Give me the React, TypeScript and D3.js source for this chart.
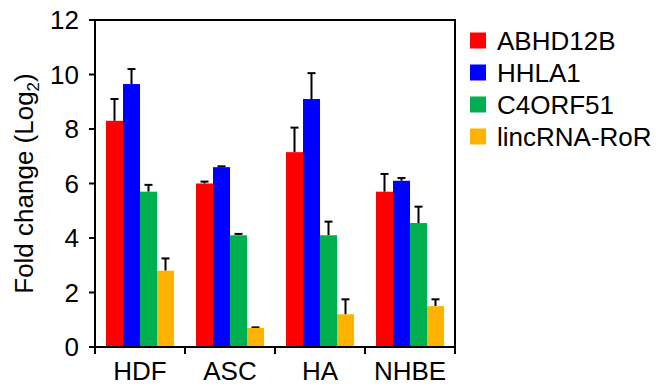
import React from "react";
import * as d3 from "d3";

// cell types on the x axis
const cellTypes = ["HDF", "ASC", "HA", "NHBE"];
const genes = ["ABHD12B", "HHLA1", "C4ORF51", "lincRNA-RoR"];
const geneColors = ["#ff0000", "#0000ff", "#00b050", "#ffb300"];

// means per gene, in cell type order
const abhd12b = [8.3, 6.0, 7.15, 5.7];
const hhla1 = [9.65, 6.6, 9.1, 6.1];
const c4orf51 = [5.7, 4.1, 4.1, 4.55];
const lincRoR = [2.8, 0.7, 1.2, 1.5];

// top of error bars
const abhd12bErr = [9.1, 6.07, 8.05, 6.35];
const hhla1Err = [10.2, 6.63, 10.05, 6.2];
const c4orf51Err = [5.95, 4.15, 4.6, 5.15];
const lincRoRErr = [3.25, 0.72, 1.75, 1.75];

const yTicks = [0, 2, 4, 6, 8, 10, 12];

const means = [abhd12b, hhla1, c4orf51, lincRoR];
const errs = [abhd12bErr, hhla1Err, c4orf51Err, lincRoRErr];

const W = 656;
const H = 387;
const left = 95;
const right = 455;
const top = 20;
const bottom = 347;
const font = "'Liberation Sans', Arial, sans-serif";
const fs = 26;

const App = () => {
  const x = d3.scaleBand().domain(cellTypes).range([left, right]);
  const xInner = d3.scaleBand().domain(genes).range([11, 79]);
  const y = d3.scaleLinear().domain([0, 12]).range([bottom, top]);

  const bars = cellTypes.flatMap((c, i) =>
    genes.map((g, j) => {
      const bx = (x(c) as number) + (xInner(g) as number);
      const bw = xInner.bandwidth();
      const cx = bx + bw / 2;
      const v = means[j][i];
      const e = errs[j][i];
      return (
        <g key={c + g}>
          <line x1={cx} x2={cx} y1={y(v)} y2={y(e)} stroke="#000" strokeWidth={2} />
          <line x1={cx - 4} x2={cx + 4} y1={y(e)} y2={y(e)} stroke="#000" strokeWidth={2} />
          <rect x={bx} y={y(v)} width={bw} height={bottom - y(v)} fill={geneColors[j]} />
        </g>
      );
    })
  );

  return (
    <svg width={W} height={H} style={{ position: "absolute", left: 0, top: 0 }}>
      <rect width={W} height={H} fill="#fff" />
      {bars}
      {/* frame */}
      <path
        d={`M${left},${bottom + 7}V${top}H${right}V${bottom + 7}M${left},${bottom}H${right}`}
        fill="none"
        stroke="#000"
        strokeWidth={2}
      />
      {/* y ticks */}
      {yTicks.map(t => (
        <g key={t}>
          <line x1={left - 6} x2={left} y1={y(t)} y2={y(t)} stroke="#000" strokeWidth={2} />
          <text
            x={left - 16}
            y={y(t)}
            dy="0.36em"
            textAnchor="end"
            fontFamily={font}
            fontSize={fs}
            fill="#000"
          >
            {t}
          </text>
        </g>
      ))}
      {/* x ticks */}
      {cellTypes.map(c => (
        <g key={c}>
          <line
            x1={(x(c) as number) + x.bandwidth()}
            x2={(x(c) as number) + x.bandwidth()}
            y1={bottom}
            y2={bottom + 7}
            stroke="#000"
            strokeWidth={2}
          />
          <text
            x={(x(c) as number) + x.bandwidth() / 2}
            y={380}
            textAnchor="middle"
            fontFamily={font}
            fontSize={fs}
            fill="#000"
          >
            {c}
          </text>
        </g>
      ))}
      <text
        transform={`translate(33,${(top + bottom) / 2}) rotate(-90)`}
        textAnchor="middle"
        fontFamily={font}
        fontSize={fs}
        fill="#000"
      >
        Fold change (Log<tspan fontSize={17} dy={6}>2</tspan>
        <tspan dy={-6}>)</tspan>
      </text>
      {/* legend */}
      {genes.map((g, j) => (
        <g key={g} transform={`translate(470,${40.5 + j * 32})`}>
          <rect x={0} y={-8} width={16} height={16} fill={geneColors[j]} />
          <text x={27} y={0} dy="0.36em" fontFamily={font} fontSize={fs} fill="#000">
            {g}
          </text>
        </g>
      ))}
    </svg>
  );
};

export default App;
